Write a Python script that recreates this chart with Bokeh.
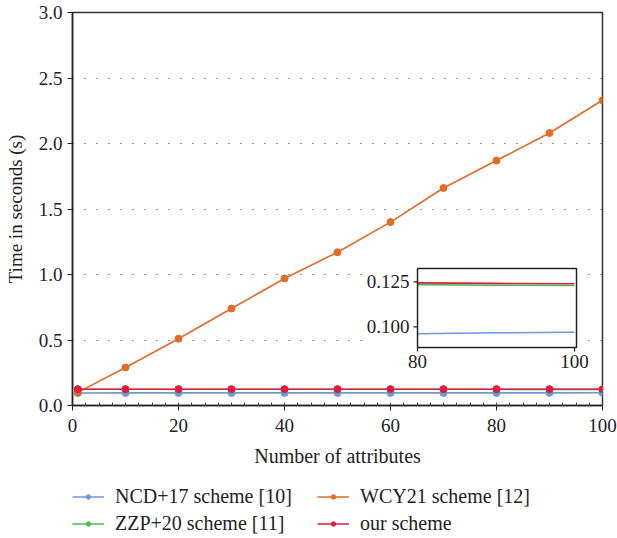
import math
from bokeh.plotting import figure
from bokeh.layouts import column
from bokeh.models import (Range1d, FixedTicker, NumeralTickFormatter, Legend, LegendItem)
from bokeh.embed import file_html
from bokeh.resources import INLINE
from bokeh.core.properties import value

# ---- data ----
attributes = [1, 10, 20, 30, 40, 50, 60, 70, 80, 90, 100]
ncd17 = [0.095, 0.096, 0.096, 0.096, 0.096, 0.096, 0.096, 0.096, 0.0962, 0.0967, 0.097]
zzp20 = [0.1235, 0.1235, 0.1235, 0.1235, 0.1235, 0.1235, 0.1235, 0.1235, 0.1235, 0.1232, 0.123]
wcy21 = [0.10, 0.29, 0.51, 0.74, 0.97, 1.17, 1.40, 1.66, 1.87, 2.08, 2.33]
ours = [0.1245, 0.1245, 0.1245, 0.1245, 0.1245, 0.1245, 0.1245, 0.1245, 0.1245, 0.1242, 0.124]

names = ["NCD+17 scheme [10]", "ZZP+20 scheme [11]", "WCY21 scheme [12]", "our scheme"]
colors = ["#6e96d8", "#52b852", "#e06c28", "#dc1e3c"]

y_ticks = [0.0, 0.5, 1.0, 1.5, 2.0, 2.5, 3.0]
x_ticks = [0, 20, 40, 60, 80, 100]
inset_x_ticks = [80, 100]
inset_x_labels = ["80", "100"]
inset_y_ticks = [0.100, 0.125]
inset_y_labels = ["0.100", "0.125"]

FONT = "Liberation Serif"
W = 617

p = figure(width=W, height=472, output_backend="svg", toolbar_location=None,
           x_range=Range1d(0, 100), y_range=Range1d(0, 3.0),
           min_border_left=72, min_border_right=15, min_border_top=12, min_border_bottom=67)

p.background_fill_color = "white"
p.outline_line_color = "#333333"
p.outline_line_width = 1.5

# axes
p.xaxis.ticker = FixedTicker(ticks=x_ticks, minor_ticks=[i * 2.5 for i in range(41)])
p.yaxis.ticker = FixedTicker(ticks=y_ticks)
p.yaxis.formatter = NumeralTickFormatter(format="0.0")
for ax in (p.xaxis[0], p.yaxis[0]):
    ax.axis_line_color = "#222222"
    ax.axis_line_width = 1.5
    ax.major_tick_line_color = "#222222"
    ax.major_tick_in = 0
    ax.major_tick_out = 5
    ax.major_label_text_font = FONT
    ax.major_label_text_font_size = "19px"
    ax.major_label_text_color = "#222222"
    ax.axis_label_text_font = FONT
    ax.axis_label_text_font_size = "19px"
    ax.axis_label_text_font_style = "normal"
    ax.axis_label_text_color = "#222222"
p.xaxis.axis_label_text_font_size = "20px"
p.xaxis.minor_tick_in = 3
p.xaxis.minor_tick_out = 0
p.xaxis.minor_tick_line_color = "#444444"
p.yaxis.minor_tick_line_color = None
p.xaxis.axis_label = "Number of attributes"
p.yaxis.axis_label = "Time in seconds (s)"
p.xaxis.major_label_standoff = 8
p.xaxis.axis_label_standoff = 10
p.yaxis.axis_label_standoff = 10

p.xgrid.grid_line_color = None
p.ygrid.ticker = FixedTicker(ticks=[0.5, 1.0, 1.5, 2.0, 2.5])
p.ygrid.grid_line_color = "#333333"
p.ygrid.grid_line_dash = "1 11"
p.ygrid.grid_line_width = 1.2

# inset white background (behind inset, over grid)
p.quad(left=[55], right=[96.8], bottom=[0.2], top=[1.09], fill_color="white", line_color=None)

series = [ncd17, zzp20, wcy21, ours]
for name, col, ys in zip(names, colors, series):
    p.line(attributes, ys, line_color=col, line_width=1.6)
    p.scatter(attributes, ys, size=7, fill_color=col, line_color=col)

# inset via sub-coordinates
sub = p.subplot(x_source=Range1d(80, 100.25), y_source=Range1d(0.0885, 0.1325),
                x_target=Range1d(65.1, 95.1), y_target=Range1d(0.4427, 1.0458))
inset_idx = [i for i, a in enumerate(attributes) if a >= 80]
for col, ys in zip(colors, series):
    if ys is wcy21:
        continue
    sub.line([attributes[i] for i in inset_idx], [ys[i] for i in inset_idx],
             line_color=col, line_width=1.6)
sub.quad(left=[80], right=[100.25], bottom=[0.0885], top=[0.1325],
         fill_color=None, line_color="#222222", line_width=1.5)
sub.ray(x=[80] * len(inset_y_ticks), y=inset_y_ticks, length=4, length_units="screen",
        angle=math.pi, line_color="#222222", line_width=1.2)
sub.ray(x=inset_x_ticks, y=[0.0885] * len(inset_x_ticks), length=4, length_units="screen",
        angle=-math.pi / 2, line_color="#222222", line_width=1.2)
sub.text(x=[80] * len(inset_y_ticks), y=inset_y_ticks, text=inset_y_labels,
         text_align="right", text_baseline="middle", x_offset=-8,
         text_font=value(FONT), text_font_size="19px", text_color="#222222")
sub.text(x=inset_x_ticks, y=[0.0885] * len(inset_x_ticks), text=inset_x_labels,
         text_align="center", text_baseline="top", y_offset=7,
         text_font=value(FONT), text_font_size="19px", text_color="#222222")

# legend in its own strip below the chart (series drawn out of view there)
lf = figure(width=W, height=64, output_backend="svg", toolbar_location=None,
            x_range=Range1d(0, 100), y_range=Range1d(10, 11), min_border=0)
lf.axis.visible = False
lf.grid.visible = False
lf.outline_line_color = None
items = []
for name, col, ys in zip(names, colors, series):
    r1 = lf.line(attributes, ys, line_color=col, line_width=1.6)
    r2 = lf.scatter(attributes, ys, size=5, fill_color=col, line_color=col)
    items.append(LegendItem(label=name, renderers=[r1, r2]))
legend = Legend(items=items, ncols=2, location=(0, 1),
                label_text_font=FONT, label_text_font_size="20px", label_text_color="#222222",
                glyph_width=32, glyph_height=11, label_standoff=11, label_height=20,
                label_width=198, spacing=4, padding=0, margin=0,
                border_line_color=None, background_fill_alpha=0)
lf.add_layout(legend, "center")

layout = column(p, lf, spacing=0)
open("out.html", "w").write(file_html(layout, INLINE))
